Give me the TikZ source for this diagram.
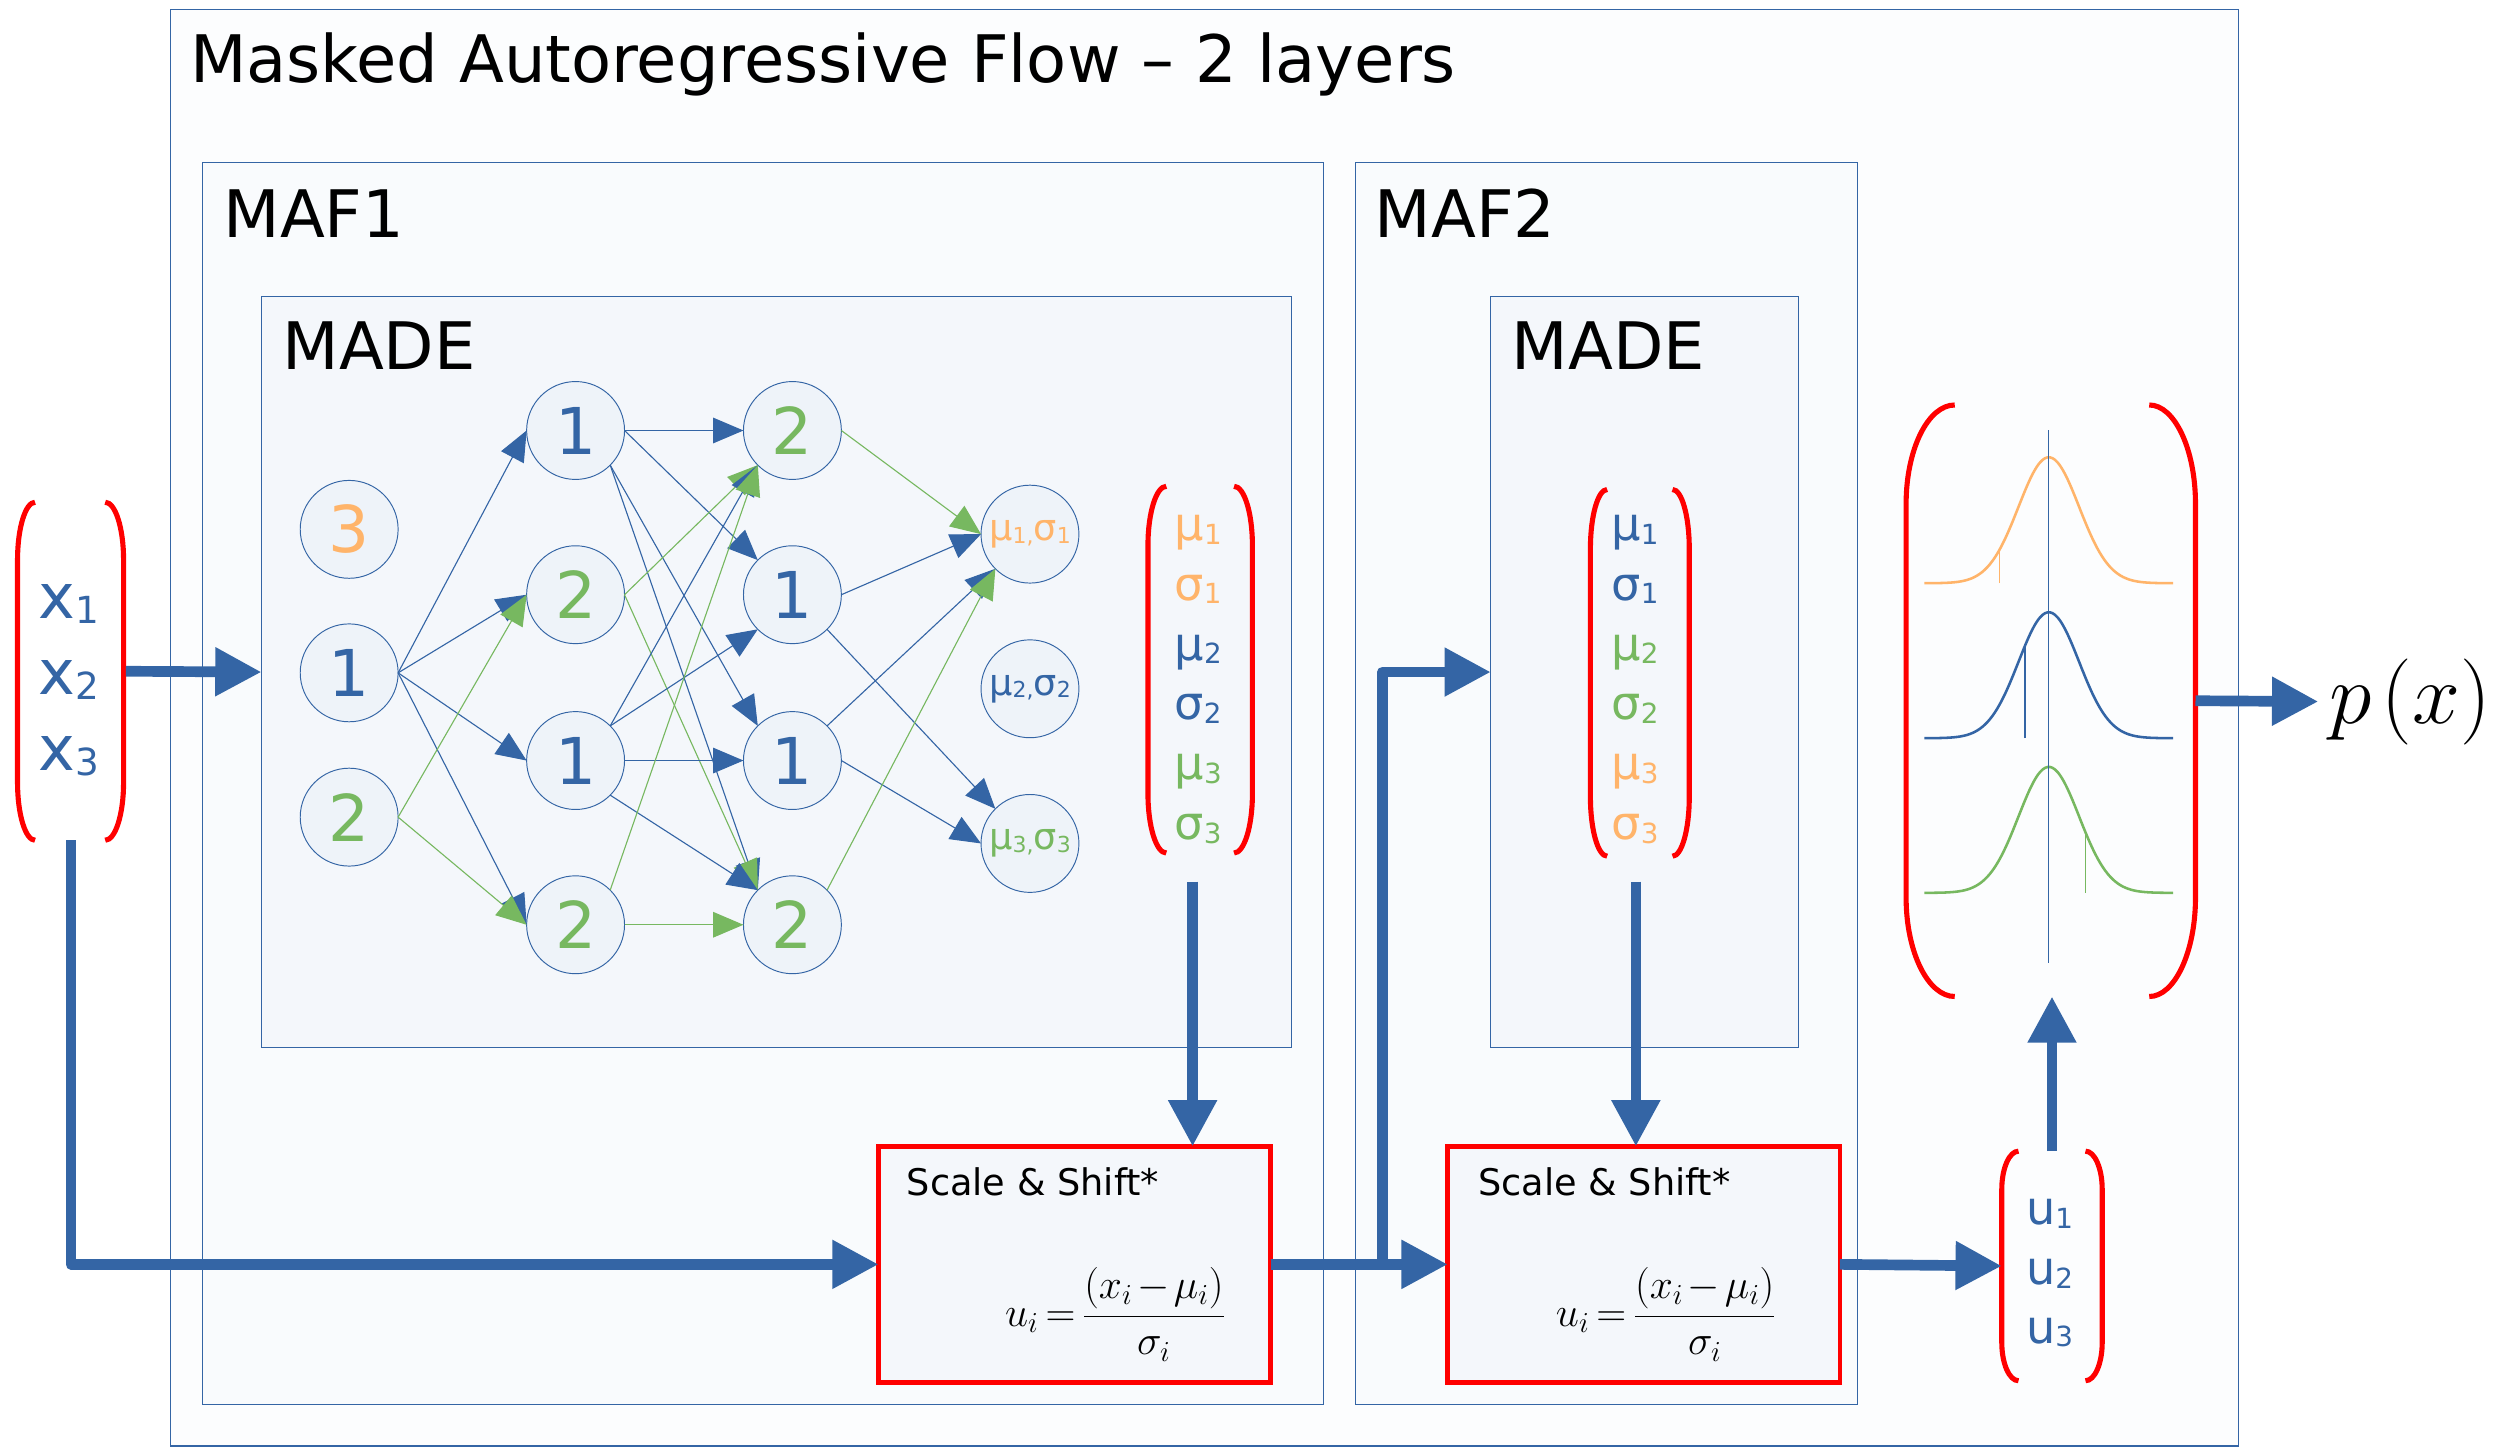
\RequirePackage{fix-cm}
\documentclass[tikz,border=0pt]{standalone}
\usepackage{fontspec}
\setmainfont{DejaVu Sans}
\usepackage{graphicx}
\usetikzlibrary{arrows.meta}
\definecolor{mblue}{HTML}{3465A5}
\definecolor{mgreen}{HTML}{77B860}
\definecolor{morange}{HTML}{FFB46A}
\definecolor{mred}{HTML}{FF0000}
\definecolor{outerfill}{HTML}{FCFDFE}
\definecolor{maffill}{HTML}{F9FBFD}
\definecolor{madefill}{HTML}{F4F7FB}
\definecolor{nodefill}{HTML}{EEF3F9}
\newcommand{\vsub}[1]{\raisebox{-0.08em}{\scalebox{0.6}{#1}}}
\newcommand{\bracketpath}[5]{% xout xin top bot curveheight
  \draw[parstyle] (#2,#3) .. controls ({#2-0.55*(#2-#1)},#3) and (#1,{#3+0.45*#5}) .. (#1,{#3+#5})
    -- (#1,{#4-#5}) .. controls (#1,{#4-0.45*#5}) and ({#2-0.55*(#2-#1)},#4) .. (#2,#4);}
\begin{document}
\begin{tikzpicture}[x=1pt,y=-1pt,
  frame/.style={draw=mblue, line width=0.8pt, anchor=north west, inner sep=0, outer sep=0},
  nn/.style={circle, draw=mblue, line width=0.6pt, fill=nodefill, minimum size=61.4pt, inner sep=0, outer sep=0, font=\fontsize{40.5}{40.5}\selectfont},
  nsmall/.style={font=\fontsize{23}{23}\selectfont},
  lbl/.style={anchor=base west, inner sep=0, font=\fontsize{41.1}{41.1}\selectfont, text=black},
  sslbl/.style={anchor=base west, inner sep=0, font=\fontsize{23}{23}\selectfont, text=black},
  ssbox/.style={draw=mred, line width=3pt, fill=madefill, anchor=north west, inner sep=0, outer sep=0, minimum width=246pt, minimum height=148pt},
  parstyle/.style={draw=mred, line width=3.2pt},
  eb/.style={draw=mblue, line width=0.7pt, -{Triangle[length=19pt,width=16pt]}},
  eg/.style={draw=mgreen, line width=0.7pt, -{Triangle[length=19pt,width=16pt]}},
  big/.style={draw=mblue, line width=6.7pt, line join=round, -{Triangle[length=29pt,width=29pt]}},
  vtxt/.style={anchor=base west, inner sep=0, font=\fontsize{29}{29}\selectfont},
  xtxt/.style={anchor=base west, inner sep=0, font=\fontsize{39}{39}\selectfont, text=mblue},
  ghost/.style={inner sep=0, outer sep=0, anchor=north west},
  formula/.style={anchor=base, inner sep=0, font=\fontsize{26}{26}\selectfont}
]
\useasboundingbox (0,0) rectangle (1568,911);

% frames
\node[frame, fill=outerfill, minimum width=1297pt, minimum height=901pt] (outer) at (107,6) {};
\node[frame, fill=maffill, minimum width=703pt, minimum height=779pt] (maf1) at (127,102) {};
\node[frame, fill=maffill, minimum width=315pt, minimum height=779pt] (maf2) at (850,102) {};
\node[frame, fill=madefill, minimum width=646pt, minimum height=471pt] (made1) at (164,186) {};
\node[frame, fill=madefill, minimum width=193pt, minimum height=471pt] (made2) at (935,186) {};

\node[lbl] (title) at (119,52) {Masked Autoregressive Flow – 2 layers};
\node[lbl] (maf1lbl) at (140,148.8) {MAF1};
\node[lbl] (maf2lbl) at (862,148.8) {MAF2};
\node[lbl] (made1lbl) at (177,232) {MADE};
\node[lbl] (made2lbl) at (948,232) {MADE};

% scale and shift boxes
\node[ssbox] (ss1) at (551,719) {};
\node[ssbox] (ss2) at (908,719) {};
\node[sslbl] (ss1lbl) at (568.5,750) {Scale \& Shift*};
\node[sslbl] (ss2lbl) at (927,750) {Scale \& Shift*};
\node[formula] (f1) at (699.5,832) {$\thickmuskip=3mu\medmuskip=2mu u_i=\displaystyle\frac{(x_i-\mu_i)}{\sigma_i}$};
\node[formula] (f2) at (1045,832) {$\thickmuskip=3mu\medmuskip=2mu u_i=\displaystyle\frac{(x_i-\mu_i)}{\sigma_i}$};

% network nodes
\node[nn, text=morange] (a0) at (219,332) {3};
\node[nn, text=mblue] (a1) at (219,422) {1};
\node[nn, text=mgreen] (a2) at (219,512.5) {2};
\node[nn, text=mblue] (b1) at (361,270) {1};
\node[nn, text=mgreen] (b2) at (361,373) {2};
\node[nn, text=mblue] (b3) at (361,477) {1};
\node[nn, text=mgreen] (b4) at (361,580) {2};
\node[nn, text=mgreen] (c1) at (497,270) {2};
\node[nn, text=mblue] (c2) at (497,373) {1};
\node[nn, text=mblue] (c3) at (497,477) {1};
\node[nn, text=mgreen] (c4) at (497,580) {2};
\node[nn, nsmall, text=morange] (d1) at (646,335) {μ\vsub{1,}σ\vsub{1}};
\node[nn, nsmall, text=mblue] (d2) at (646,432) {μ\vsub{2,}σ\vsub{2}};
\node[nn, nsmall, text=mgreen] (d3) at (646,529) {μ\vsub{3,}σ\vsub{3}};

% network edges
\draw[eb] (a1.east) -- (b1.west);
\draw[eb] (a1.east) -- (b2.west);
\draw[eb] (a1.east) -- (b3.west);
\draw[eb] (a1.east) -- (b4.west);
\draw[eg] (a2.east) -- (b2.west);
\draw[eg] (a2.east) -- (b4.west);
\draw[eb] (b1.east) -- (c1.west);
\draw[eb] (b1.east) -- (c2.north west);
\draw[eb] (b1.south east) -- (c3.north west);
\draw[eb] (b1.south east) -- (c4.north west);
\draw[eg] (b2.east) -- (c1.south west);
\draw[eg] (b2.east) -- (c4.north west);
\draw[eb] (b3.north east) -- (c1.south west);
\draw[eb] (b3.north east) -- (c2.south west);
\draw[eb] (b3.east) -- (c3.west);
\draw[eb] (b3.south east) -- (c4.north west);
\draw[eg] (b4.north east) -- (c1.south west);
\draw[eg] (b4.east) -- (c4.west);
\draw[eg] (c1.east) -- (d1.west);
\draw[eb] (c2.east) -- (d1.west);
\draw[eb] (c2.south east) -- (d3.north west);
\draw[eb] (c3.north east) -- (d1.south west);
\draw[eb] (c3.east) -- (d3.west);
\draw[eg] (c4.north east) -- (d1.south west);

% x vector
\node[ghost, minimum width=69pt, minimum height=212pt] (xvec) at (10,315) {};
\bracketpath{11}{22}{315}{527}{36}
\bracketpath{77.5}{66}{315}{527}{36}
\node[xtxt] (x1) at (24,387.7) {x\vsub{1}};
\node[xtxt] (x2) at (24,435.3) {x\vsub{2}};
\node[xtxt] (x3) at (24,483) {x\vsub{3}};

% MADE1 output vector
\bracketpath{720}{731.5}{305}{535}{37}
\bracketpath{785.5}{774}{305}{535}{37}
\node[vtxt, text=morange] (m11) at (736.5,339) {μ\vsub{1}};
\node[vtxt, text=morange] (m12) at (736.5,376.5) {σ\vsub{1}};
\node[vtxt, text=mblue] (m13) at (736.5,414) {μ\vsub{2}};
\node[vtxt, text=mblue] (m14) at (736.5,451.5) {σ\vsub{2}};
\node[vtxt, text=mgreen] (m15) at (736.5,489) {μ\vsub{3}};
\node[vtxt, text=mgreen] (m16) at (736.5,526.5) {σ\vsub{3}};
\coordinate (m1out) at (748,553);

% MADE2 output vector
\bracketpath{997.5}{1008}{307}{537}{37}
\bracketpath{1059.5}{1049}{307}{537}{37}
\node[vtxt, text=mblue] (m21) at (1010.5,339) {μ\vsub{1}};
\node[vtxt, text=mblue] (m22) at (1010.5,376.5) {σ\vsub{1}};
\node[vtxt, text=mgreen] (m23) at (1010.5,414) {μ\vsub{2}};
\node[vtxt, text=mgreen] (m24) at (1010.5,451.5) {σ\vsub{2}};
\node[vtxt, text=morange] (m25) at (1010.5,489) {μ\vsub{3}};
\node[vtxt, text=morange] (m26) at (1010.5,526.5) {σ\vsub{3}};
\coordinate (m2out) at (1026,553);

% u vector
\node[ghost, minimum width=63pt, minimum height=144pt] (uvec) at (1255.5,722) {};
\bracketpath{1255.5}{1266}{722}{866}{24}
\bracketpath{1318.5}{1308}{722}{866}{24}
\node[vtxt, text=mblue] (u1) at (1270.5,768.3) {u\vsub{1}};
\node[vtxt, text=mblue] (u2) at (1270.5,805.5) {u\vsub{2}};
\node[vtxt, text=mblue] (u3) at (1270.5,842.5) {u\vsub{3}};

% gaussian vector
\node[ghost, minimum width=181.5pt, minimum height=371pt] (gvec) at (1195.5,254) {};
\bracketpath{1195.5}{1226}{254}{625}{62}
\bracketpath{1377}{1348}{254}{625}{62}
\draw[morange, line width=1.6pt] plot[domain=-78:78, samples=100, smooth] ({1285+\x},{365.8-79*exp(-(\x*\x)/722)});
\draw[mblue, line width=1.6pt] plot[domain=-78:78, samples=100, smooth] ({1285+\x},{463-79*exp(-(\x*\x)/722)});
\draw[mgreen, line width=1.6pt] plot[domain=-78:78, samples=100, smooth] ({1285+\x},{560-79*exp(-(\x*\x)/722)});
\draw[morange, line width=1.1pt] (1254,365.8) -- (1254,{365.8-79*exp(-(31*31)/722)});
\draw[mblue, line width=1.1pt] (1270,463) -- (1270,{463-79*exp(-(15*15)/722)});
\draw[mgreen, line width=1.1pt] (1308,560) -- (1308,{560-79*exp(-(23*23)/722)});
\draw[mblue, line width=0.8pt] (1285,270) -- (1285,604);

\node[anchor=west, inner sep=0, font=\fontsize{54}{54}\selectfont] (px) at (1461,440) {$p\mskip2mu(x)$};

% thick arrows
\draw[big] (xvec.east) -- (made1.west);
\draw[big] (xvec.south) -- (xvec.south |- ss1.west) -- (ss1.west);
\draw[big] (m1out) -- (m1out |- ss1.north);
\draw[big] (ss1.east) -- (ss2.west);
\coordinate (br) at (867,793);
\draw[big] (br) -- (br |- made2.west) -- (made2.west);
\draw[big] (m2out) -- (m2out |- ss2.north);
\draw[big] (ss2.east) -- (uvec.west);
\draw[big] (uvec.north) -- (uvec.north |- gvec.south);
\draw[big] (gvec.east) -- ([xshift=-7pt]px.west);
\end{tikzpicture}
\end{document}
